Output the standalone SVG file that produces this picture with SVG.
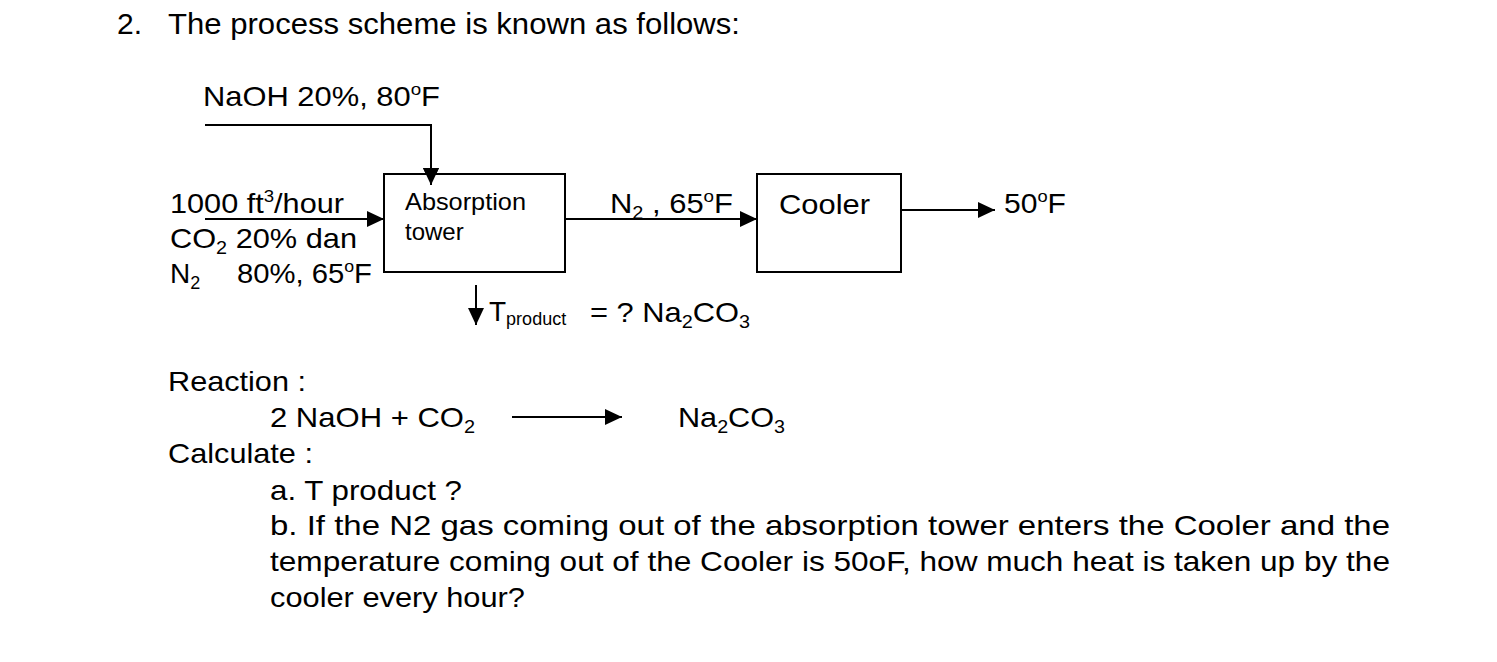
<svg xmlns="http://www.w3.org/2000/svg" width="1497" height="662" viewBox="0 0 1497 662">
<style>
text{font-family:"Liberation Sans",Arial,sans-serif;fill:#000}
.t30{font-size:30px}
.t28{font-size:28px}
.t24{font-size:24px}
.box{fill:#fff;stroke:#000;stroke-width:2}
.ln{fill:none;stroke:#000;stroke-width:2}
</style>
<defs>
<marker id="ah" markerUnits="userSpaceOnUse" markerWidth="18" markerHeight="16" refX="17" refY="8" orient="auto">
<path d="M0,0 L17,8 L0,16 Z" fill="#000"/>
</marker>
</defs>
<rect width="1497" height="662" fill="#fff"/>
<g id="title">
<text x="117" y="34" class="t30">2.</text>
<text x="168" y="34" class="t30" textLength="572" lengthAdjust="spacingAndGlyphs">The process scheme is known as follows:</text>
</g>
<g id="connectors">
<path class="ln" d="M205,125 H431 V185" marker-end="url(#ah)"/>
<path class="ln" d="M205,219 H384" marker-end="url(#ah)"/>
<path class="ln" d="M565,219 H757" marker-end="url(#ah)"/>
<path class="ln" d="M901,210 H995" marker-end="url(#ah)"/>
<path class="ln" d="M476,285 V325" marker-end="url(#ah)"/>
<path class="ln" d="M512,417 H622" marker-end="url(#ah)"/>
</g>
<g id="absorption">
<rect class="box" x="384" y="174" width="181" height="98"/>
<text x="405" y="210" class="t24" textLength="121" lengthAdjust="spacingAndGlyphs">Absorption</text>
<text x="405" y="240" class="t24">tower</text>
</g>
<path class="ln" d="M431,170 V185" marker-end="url(#ah)"/>
<g id="cooler">
<rect class="box" x="757" y="174" width="144" height="98"/>
<text x="779" y="214" class="t28" textLength="91" lengthAdjust="spacingAndGlyphs">Cooler</text>
</g>
<g id="labels">
<text x="203" y="106" class="t28" textLength="237" lengthAdjust="spacingAndGlyphs">NaOH 20%, 80<tspan font-size="17" dy="-11">o</tspan><tspan dy="11">F</tspan></text>
<text x="170" y="213" class="t28" textLength="174" lengthAdjust="spacingAndGlyphs">1000 ft<tspan font-size="17" dy="-11">3</tspan><tspan dy="11">/hour</tspan></text>
<text x="170" y="248" class="t28" textLength="187" lengthAdjust="spacingAndGlyphs">CO<tspan font-size="18" dy="6">2</tspan><tspan dy="-6"> 20% dan</tspan></text>
<text x="170" y="283" class="t28">N<tspan font-size="18" dy="6">2</tspan></text>
<text x="237" y="283" class="t28" textLength="135" lengthAdjust="spacingAndGlyphs">80%, 65<tspan font-size="17" dy="-11">o</tspan><tspan dy="11">F</tspan></text>
<text x="610" y="213" class="t28" textLength="123" lengthAdjust="spacingAndGlyphs">N<tspan font-size="18" dy="6">2</tspan><tspan dy="-6"> , 65</tspan><tspan font-size="17" dy="-11">o</tspan><tspan dy="11">F</tspan></text>
<text x="1004" y="213" class="t28" textLength="62" lengthAdjust="spacingAndGlyphs">50<tspan font-size="17" dy="-11">o</tspan><tspan dy="11">F</tspan></text>
<text x="489" y="321" class="t28">T<tspan font-size="18" dy="4">product</tspan></text>
<text x="590" y="322" class="t28" textLength="160" lengthAdjust="spacingAndGlyphs">= ? Na<tspan font-size="18" dy="6">2</tspan><tspan dy="-6">CO</tspan><tspan font-size="18" dy="6">3</tspan></text>
</g>
<g id="reaction">
<text x="168" y="391" class="t28" textLength="138" lengthAdjust="spacingAndGlyphs">Reaction :</text>
<text x="270" y="427" class="t28" textLength="205" lengthAdjust="spacingAndGlyphs">2 NaOH + CO<tspan font-size="18" dy="6">2</tspan></text>
<text x="678" y="427" class="t28" textLength="107" lengthAdjust="spacingAndGlyphs">Na<tspan font-size="18" dy="6">2</tspan><tspan dy="-6">CO</tspan><tspan font-size="18" dy="6">3</tspan></text>
<text x="168" y="463" class="t28" textLength="145" lengthAdjust="spacingAndGlyphs">Calculate :</text>
</g>
<g id="questions">
<text x="270" y="500" class="t28" textLength="192" lengthAdjust="spacingAndGlyphs">a. T product ?</text>
<text x="270" y="535" class="t28" textLength="1120" lengthAdjust="spacingAndGlyphs">b. If the N2 gas coming out of the absorption tower enters the Cooler and the</text>
<text x="270" y="571" class="t28" textLength="1120" lengthAdjust="spacingAndGlyphs">temperature coming out of the Cooler is 50oF, how much heat is taken up by the</text>
<text x="270" y="607" class="t28" textLength="255" lengthAdjust="spacingAndGlyphs">cooler every hour?</text>
</g>
</svg>
